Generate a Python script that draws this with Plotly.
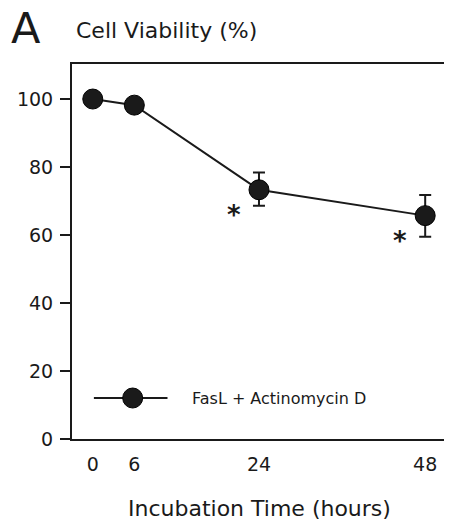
import plotly.graph_objects as go

# Data
hours = [0, 6, 24, 48]
viability = [100, 98.2, 73.3, 65.7]
err_plus = [0, 0, 5.1, 6.1]
err_minus = [0, 0, 4.7, 6.2]
sig_hours = [24, 48]
sig_values = [73.3, 65.7]
x_ticks = [0, 6, 24, 48]
y_ticks = [0, 20, 40, 60, 80, 100]
series_name = "FasL + Actinomycin D"

FONT = "'DejaVu Sans', sans-serif"
INK = "#1a1a1a"

fig = go.Figure()
fig.add_trace(go.Scatter(
    x=hours, y=viability, mode="lines+markers",
    name=series_name,
    line=dict(color=INK, width=2),
    marker=dict(size=20, color=INK, line=dict(color="#000", width=1)),
    error_y=dict(type="data", symmetric=False, array=err_plus, arrayminus=err_minus,
                 color=INK, thickness=2, width=6),
    showlegend=False,
))

annotations = []
for xv, yv in zip(sig_hours, sig_values):
    annotations.append(dict(x=xv, y=yv, xref="x", yref="y", text="<b>*</b>", showarrow=False,
                            xshift=-25, yshift=-25, font=dict(family=FONT, size=26, color=INK)))

# panel letter, title, axis title, legend text
annotations += [
    dict(x=-0.168, y=1.097, xref="paper", yref="paper", text="A", showarrow=False,
         xanchor="left", yanchor="middle", font=dict(family=FONT, size=43, color=INK)),
    dict(x=0.006, y=1.088, xref="paper", yref="paper", text="Cell Viability (%)", showarrow=False,
         xanchor="left", yanchor="middle", font=dict(family=FONT, size=22, color=INK)),
    dict(x=0.499, y=-0.184, xref="paper", yref="paper", text="Incubation Time (hours)", showarrow=False,
         xanchor="center", yanchor="middle", font=dict(family=FONT, size=22, color=INK)),
    dict(x=0.3156, y=0.1093, xref="paper", yref="paper", text=series_name, showarrow=False,
         xanchor="left", yanchor="middle", font=dict(family=FONT, size=16, color=INK)),
]

shapes = [
    dict(type="line", xref="paper", yref="paper", x0=(94 - 72) / 377, x1=(168 - 72) / 377,
         y0=0.1093, y1=0.1093, line=dict(color=INK, width=2)),
    dict(type="circle", xref="paper", yref="paper", xsizemode="pixel", ysizemode="pixel",
         xanchor=(133 - 72) / 377, yanchor=0.1093, x0=-10, x1=10, y0=-10, y1=10,
         fillcolor=INK, line=dict(color="#000", width=1)),
]

# page has an 8px body margin, so the figure is sized/margined to compensate
fig.update_layout(
    width=444, height=517,
    margin=dict(l=64, r=3, t=56, b=86),
    paper_bgcolor="white", plot_bgcolor="white",
    font=dict(family=FONT, color=INK),
    annotations=annotations, shapes=shapes,
    showlegend=False,
)
fig.update_xaxes(
    range=[-3.0, 51.15], tickvals=x_ticks, ticktext=[str(v) for v in x_ticks],
    ticks="", showgrid=False, zeroline=False,
    showline=True, mirror=True, linecolor=INK, linewidth=2,
    tickfont=dict(family=FONT, size=19, color=INK), ticklabelstandoff=7,
)
fig.update_yaxes(
    range=[0, 110.3], tickvals=y_ticks, ticktext=[str(v) for v in y_ticks],
    ticks="outside", ticklen=10, tickwidth=2, tickcolor=INK,
    showgrid=False, zeroline=False,
    showline=True, mirror=True, linecolor=INK, linewidth=2,
    tickfont=dict(family=FONT, size=19, color=INK), ticklabelstandoff=3,
)

fig.write_html("out.html")
